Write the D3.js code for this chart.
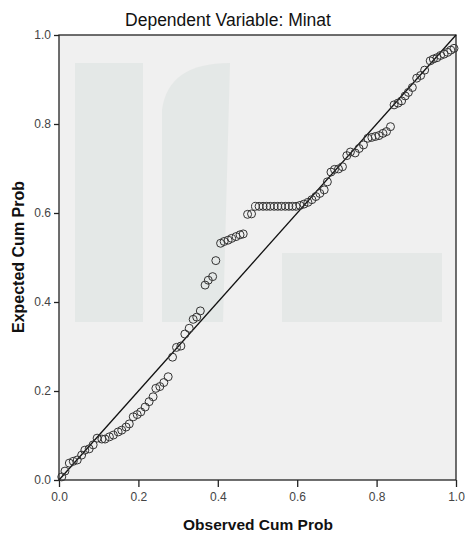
<!DOCTYPE html>
<html>
<head>
<meta charset="utf-8">
<script src="https://cdn.jsdelivr.net/npm/d3@7/dist/d3.min.js"></script>
<style>
  body { margin: 0; background: #fff; }
  text { font-family: "Liberation Sans", Arial, sans-serif; }
</style>
</head>
<body>
<div id="chart"></div>
<script>
// P-P plot of regression standardized residual

const observed = [
  0.007, 0.015, 0.026, 0.036, 0.046, 0.057, 0.065, 0.076, 0.086, 0.096,
  0.108, 0.116, 0.127, 0.137, 0.149, 0.158, 0.169, 0.177, 0.187, 0.197,
  0.206, 0.217, 0.227, 0.237, 0.244, 0.254, 0.264, 0.275, 0.286, 0.296,
  0.307, 0.317, 0.328, 0.338, 0.347, 0.356, 0.368, 0.376, 0.387, 0.395,
  0.407, 0.416, 0.426, 0.435, 0.446, 0.456, 0.464, 0.475, 0.485,
  0.495, 0.504, 0.514, 0.523, 0.532, 0.542, 0.551, 0.560, 0.570, 0.579,
  0.588, 0.597, 0.607, 0.617, 0.627, 0.637, 0.647, 0.657, 0.668, 0.676,
  0.685, 0.694, 0.704, 0.714, 0.725, 0.734, 0.746, 0.756, 0.767, 0.778,
  0.788, 0.797, 0.806, 0.816, 0.825, 0.835, 0.844, 0.854, 0.863, 0.872,
  0.880, 0.890, 0.901, 0.911, 0.921, 0.935, 0.943, 0.952, 0.961, 0.970,
  0.979, 0.987, 0.995
];

const expected = [
  0.007, 0.020, 0.038, 0.042, 0.045, 0.056, 0.067, 0.070, 0.079, 0.094,
  0.092, 0.092, 0.097, 0.101, 0.108, 0.112, 0.119, 0.126, 0.142, 0.147,
  0.153, 0.164, 0.176, 0.187, 0.206, 0.210, 0.219, 0.232, 0.276, 0.298,
  0.301, 0.328, 0.341, 0.361, 0.366, 0.380, 0.438, 0.449, 0.457, 0.493,
  0.532, 0.536, 0.539, 0.543, 0.547, 0.551, 0.553, 0.597, 0.598,
  0.615, 0.615, 0.615, 0.615, 0.615, 0.615, 0.615, 0.615, 0.615, 0.615,
  0.615, 0.615, 0.617, 0.620, 0.624, 0.630, 0.637, 0.644, 0.652, 0.670,
  0.692, 0.698, 0.699, 0.704, 0.729, 0.737, 0.735, 0.745, 0.753, 0.768,
  0.770, 0.772, 0.774, 0.779, 0.783, 0.794, 0.843, 0.847, 0.852, 0.863,
  0.871, 0.882, 0.903, 0.909, 0.921, 0.942, 0.946, 0.949, 0.954, 0.957,
  0.961, 0.966, 0.970
];

const ticks = [0.0, 0.2, 0.4, 0.6, 0.8, 1.0];

const width = 465, height = 536;
const margin = {top: 35, right: 9, bottom: 56, left: 59};

const svg = d3.select("#chart")
  .append("svg")
  .attr("width", width)
  .attr("height", height);

const x = d3.scaleLinear().domain([0, 1]).range([margin.left, width - margin.right]);
const y = d3.scaleLinear().domain([0, 1]).range([height - margin.bottom, margin.top]);

// plot background
svg.append("rect")
  .attr("x", x(0)).attr("y", y(1))
  .attr("width", x(1) - x(0)).attr("height", y(0) - y(1))
  .attr("fill", "#f0f0f0");

// faint watermark shapes behind the plot
const wm = svg.append("g").attr("fill", "#b9c9c4").attr("opacity", 0.2);
wm.append("rect").attr("x", 75).attr("y", 63).attr("width", 68).attr("height", 259);
wm.append("path").attr("d", "M162,322 L162,110 Q168,63 230,63 L223,322 Z");
wm.append("rect").attr("x", 282).attr("y", 253).attr("width", 160).attr("height", 69);

// axes
const xAxis = d3.axisBottom(x).tickValues(ticks).tickSize(7).tickFormat(d3.format(".1f"));
const yAxis = d3.axisLeft(y).tickValues(ticks).tickSize(5).tickFormat(d3.format(".1f"));

const gx = svg.append("g")
  .attr("transform", `translate(0,${y(0)})`)
  .call(xAxis);
const gy = svg.append("g")
  .attr("transform", `translate(${x(0)},0)`)
  .call(yAxis);

[gx, gy].forEach(g => {
  g.select(".domain").remove();
  g.selectAll(".tick line").attr("stroke", "#222").attr("stroke-width", 1.3);
  g.selectAll(".tick text")
    .attr("fill", "#444")
    .style("font-size", "12px")
    .style("font-family", "'Liberation Sans', Arial, sans-serif");
});
gx.selectAll(".tick text").attr("dy", "0.9em");
gy.selectAll(".tick text").attr("x", -8);

// frame
svg.append("rect")
  .attr("x", x(0)).attr("y", y(1))
  .attr("width", x(1) - x(0)).attr("height", y(0) - y(1))
  .attr("fill", "none")
  .attr("stroke", "#222")
  .attr("stroke-width", 1.3);

// reference diagonal
svg.append("line")
  .attr("x1", x(0)).attr("y1", y(0))
  .attr("x2", x(1)).attr("y2", y(1))
  .attr("stroke", "#111")
  .attr("stroke-width", 1.3);

// points
svg.append("g")
  .selectAll("circle")
  .data(observed.map((d, i) => [d, expected[i]]))
  .enter().append("circle")
  .attr("cx", d => x(d[0]))
  .attr("cy", d => y(d[1]))
  .attr("r", 4)
  .attr("fill", "none")
  .attr("stroke", "#333")
  .attr("stroke-width", 1);

// title
svg.append("text")
  .attr("x", 228).attr("y", 26)
  .attr("text-anchor", "middle")
  .style("font-size", "17.5px")
  .attr("fill", "#111")
  .text("Dependent Variable: Minat");

// axis titles
svg.append("text")
  .attr("x", 258).attr("y", 530)
  .attr("text-anchor", "middle")
  .style("font-size", "15.5px")
  .style("font-weight", "bold")
  .attr("fill", "#111")
  .text("Observed Cum Prob");

svg.append("text")
  .attr("transform", "translate(24,257) rotate(-90)")
  .attr("text-anchor", "middle")
  .style("font-size", "16px")
  .style("font-weight", "bold")
  .attr("fill", "#111")
  .text("Expected Cum Prob");
</script>
</body>
</html>
